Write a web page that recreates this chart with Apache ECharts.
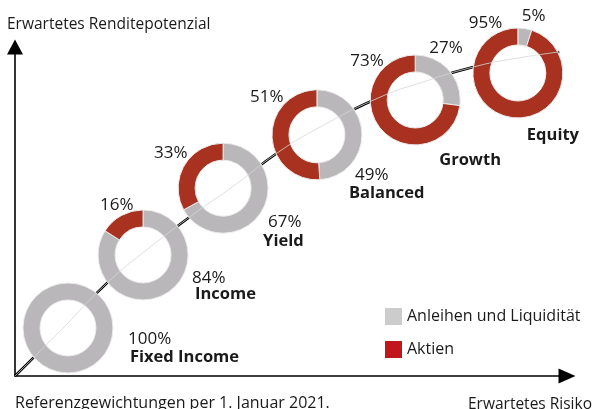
<!DOCTYPE html>
<html>
<head>
<meta charset="utf-8">
<script src="https://cdn.jsdelivr.net/npm/echarts@6/dist/echarts.min.js"></script>
<style>
html,body{margin:0;padding:0;background:#fff;}
#chart{width:593px;height:409px;}
</style>
</head>
<body>
<div id="chart"></div>
<script>
// ---- data ----
const portfolios = ['Fixed Income', 'Income', 'Yield', 'Balanced', 'Growth', 'Equity'];
const anleihen = [100, 84, 67, 49, 27, 5];   // Anleihen und Liquidität (%)
const aktien = [0, 16, 33, 51, 73, 95];      // Aktien (%)
const risiko = [9.6, 23.2, 37.7, 54.7, 72.5, 91.1];      // erwartetes Risiko (relative)
const rendite = [14.6, 36.8, 57.1, 73.3, 83.9, 92.1];    // erwartetes Renditepotenzial (relative)
const curveRisiko = [0, 8.2, 16.7, 24.5, 32.6, 39.9, 47.5, 55.3, 65.8, 73.4, 83.7, 91.3, 98.6];
const curveRendite = [0, 13.7, 28.3, 39.2, 49.5, 58.1, 67.8, 75.7, 84.5, 89.1, 94.2, 96.7, 98.5];
const legendNames = ['Anleihen und Liquidität', 'Aktien'];
const yTitle = 'Erwartetes Renditepotenzial';
const xTitle = 'Erwartetes Risiko';
const footnote = 'Referenzgewichtungen per 1. Januar 2021.';

// ---- layout / style (not data) ----
const pieColors = ['#b9b7ba', '#a8321f'];
const legendColors = ['#cccccc', '#c1161c'];
// label offsets from pie centre: [bond%, equity%, name]
const labelOffsets = [
  {bond: [60, 11], eq: null, name: [62, 29]},
  {bond: [49, 23], eq: [-43, -50], name: [52, 39]},
  {bond: [45, 34], eq: [-69, -35], name: [40, 53]},
  {bond: [38, 40], eq: [-67, -38], name: [32, 58]},
  {bond: [14, -52], eq: [-65, -39], name: [24, 60]},
  {bond: [4, -57], eq: [-49, -50], name: [9, 62]}
];
const FONT = '"Open Sans", "Noto Sans", sans-serif';

const chart = echarts.init(document.getElementById('chart'));
const axisCommon = {
  type: 'value', min: 0, max: 100,
  axisTick: {show: false}, axisLabel: {show: false}, splitLine: {show: false},
  axisLine: {show: true, lineStyle: {color: '#000', width: 1.6}, symbol: ['none', 'triangle']}
};
const curveData = curveRisiko.map((x, i) => [x, curveRendite[i]]);
chart.setOption({
  animation: false,
  grid: {left: 15, right: 26, top: 47, bottom: 33},
  xAxis: Object.assign({}, axisCommon, {axisLine: Object.assign({}, axisCommon.axisLine, {symbolSize: [15, 17]})}),
  yAxis: Object.assign({}, axisCommon, {axisLine: Object.assign({}, axisCommon.axisLine, {symbolSize: [16, 15]})}),
  series: [{
    type: 'line', data: curveData, smooth: true, symbol: 'none', z: 1,
    lineStyle: {color: '#000', width: 2.5}, silent: true
  }]
});

const centers = risiko.map((x, i) => chart.convertToPixel({xAxisIndex: 0, yAxisIndex: 0}, [x, rendite[i]]));

const discSeries = portfolios.map((p, i) => ({
  type: 'pie', name: p + ' bg', center: centers[i], radius: [0, 44], z: 2, silent: true,
  label: {show: false}, labelLine: {show: false}, emphasis: {disabled: true},
  data: [{name: 'bg', value: 1, itemStyle: {color: '#ffffff'}}]
}));
const pieSeries = portfolios.map((p, i) => ({
  type: 'pie', name: p, center: centers[i], radius: [28, 45],
  startAngle: 90, clockwise: true, z: 3, silent: true,
  label: {show: false}, labelLine: {show: false},
  itemStyle: {borderColor: '#ececec', borderWidth: 1},
  emphasis: {disabled: true},
  data: [
    {name: legendNames[0], value: anleihen[i], itemStyle: {color: pieColors[0]}},
    {name: legendNames[1], value: aktien[i], itemStyle: {color: pieColors[1]}}
  ].filter(d => d.value > 0)
}));

const graphics = [];
function txt(x, y, s, size, weight, align) {
  graphics.push({type: 'text', x: x, y: y, z: 10, silent: true,
    style: {text: s, fill: '#1a1a1a', font: (weight || 'normal') + ' ' + size + 'px ' + FONT,
      textAlign: align || 'left', textVerticalAlign: 'middle'}});
}
portfolios.forEach((p, i) => {
  const c = centers[i], o = labelOffsets[i];
  txt(c[0] + o.bond[0], c[1] + o.bond[1], anleihen[i] + '%', 17);
  if (o.eq && aktien[i] > 0) txt(c[0] + o.eq[0], c[1] + o.eq[1], aktien[i] + '%', 17);
  txt(c[0] + o.name[0], c[1] + o.name[1], p, 16.5, 'bold');
});
txt(7, 25, yTitle, 15.5);
txt(15, 403, footnote, 16);
txt(592, 405, xTitle, 15.5, 'normal', 'right');

chart.setOption({
  legend: {
    orient: 'vertical', left: 380, top: 303, itemWidth: 17, itemHeight: 17, itemGap: 16,
    selectedMode: false, icon: 'rect',
    textStyle: {fontSize: 16, color: '#1a1a1a', fontFamily: FONT},
    data: legendNames.map((n, k) => ({name: n, itemStyle: {color: legendColors[k], borderWidth: 0}}))
  },
  series: [
    {type: 'line', data: curveData, smooth: true, symbol: 'none', z: 1,
      lineStyle: {color: '#000', width: 2.5}, silent: true},
    ...discSeries,
    ...pieSeries,
    {type: 'line', data: curveData, smooth: true, symbol: 'none', z: 5,
      lineStyle: {color: 'rgba(215,215,215,0.8)', width: 1}, silent: true}
  ],
  graphic: graphics
});
</script>
</body>
</html>
